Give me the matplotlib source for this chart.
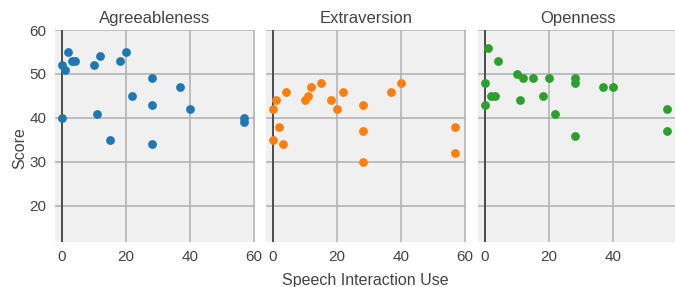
import matplotlib
matplotlib.use("Agg")
import matplotlib.pyplot as plt

plt.rcParams['font.family'] = ['Liberation Sans', 'DejaVu Sans']

titles = ["Agreeableness", "Extraversion", "Openness"]
colors = ["#1f77b4", "#ff7f0e", "#2ca02c"]

agree_x = [0, 1, 2, 3, 4, 0, 10, 12, 11, 15, 18, 20, 22, 28, 28, 28, 37, 40, 57, 57]
agree_y = [52, 51, 55, 53, 53, 40, 52, 54, 41, 35, 53, 55, 45, 49, 43, 34, 47, 42, 40, 39]

extra_x = [0, 1, 4, 2, 0, 3, 10, 11, 12, 15, 18, 20, 22, 28, 28, 37, 40, 57, 28, 57]
extra_y = [42, 44, 46, 38, 35, 34, 44, 45, 47, 48, 44, 42, 46, 43, 37, 46, 48, 38, 30, 32]

open_x = [1, 4, 0, 0, 2, 3, 10, 12, 15, 11, 18, 20, 22, 28, 28, 28, 37, 40, 57, 57]
open_y = [56, 53, 48, 43, 45, 45, 50, 49, 49, 44, 45, 49, 41, 49, 48, 36, 47, 47, 42, 37]

xs = [agree_x, extra_x, open_x]
ys = [agree_y, extra_y, open_y]

x_ticks = [0, 20, 40, 60]
y_ticks = [20, 30, 40, 50, 60]

W, H = 675, 287
fig = plt.figure(figsize=(W / 100, H / 100), dpi=100)
lefts = [55, 266, 478]
top, bottom = 30, 242
pw = 200
txt = "#444444"
for i in range(3):
    ax = fig.add_axes([lefts[i] / W, (H - bottom) / H, pw / W, (bottom - top) / H])
    ax.set_facecolor("#f0f0f0")
    ax.set_xlim(-2.2, 60.3)
    ax.set_ylim(11.8, 60)
    for s in ax.spines.values():
        s.set_visible(False)
    ax.set_xticks(x_ticks)
    if i == 2:
        ax.set_xticklabels([str(t) if t < 60 else "" for t in x_ticks])
    ax.set_yticks(y_ticks)
    ax.grid(True, color="#b0b0b0", linewidth=1.1, zorder=0)
    ax.set_axisbelow(True)
    ax.axvline(0, color="#444444", linewidth=1.3, zorder=1)
    ax.scatter(xs[i], ys[i], s=40, color=colors[i], linewidths=0, zorder=3, clip_on=False)
    ax.tick_params(axis="both", length=0, labelsize=11, labelcolor=txt, pad=6)
    if i > 0:
        ax.tick_params(axis="y", labelleft=False)
    ax.set_title(titles[i], fontsize=12, color=txt, pad=5)

fig.text(20 / W, 1 - 148 / H, "Score", rotation=90, ha="center", va="center", fontsize=11.5, color=txt)
fig.text(365 / W, 1 - 281 / H, "Speech Interaction Use", ha="center", va="center", fontsize=11.5, color=txt)

fig.savefig("out.png", dpi=100, facecolor="white")
